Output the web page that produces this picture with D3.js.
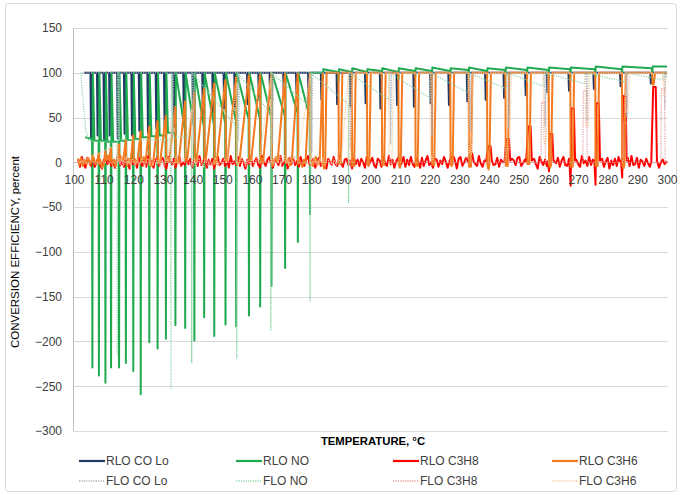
<!DOCTYPE html>
<html>
<head>
<meta charset="utf-8">
<script src="https://cdn.jsdelivr.net/npm/d3@7"></script>
<style>
  body { margin: 0; background: #fff; }
  text { font-family: "Liberation Sans", Arial, sans-serif; }
</style>
</head>
<body>
<div id="chart"></div>
<script>
// ---- data ----
// temperatures of the RLO lean/rich switches
const cycleT = [106.2,108.4,110.6,112.5,115.2,117.5,120.0,122.5,125.4,128.2,131.0,134.2,137.5,140.6,
  143.9,147.3,151.1,154.7,159.0,162.8,166.6,171.2,175.5,179.6,183.9,189.2,193.7,198.8,203.8,209.4,
  215.1,220.7,226.9,233.1,239.3,245.5,252.8,260.1,267.4,275.8,284.8,295.0];

// RLO NO: level just before each switch, spike at switch, level just after
const noTrough = [26,24,24,23,23,24,25,26,28,29,30,33,36,38,40,42,44,46,48,48,50,52,55,50,
  100,101,101,101,102,101,102,102,102,103,102,103,103,103,104,104,104,105];
const noDip = [-229,-238,-246,-229,-229,-224,-233,-259,-201,-208,-197,-182,-185,-199,-173,-194,-181,
  -183,-171,-161,-138,-118,-89,-58,92,90,93,91,94,92,95,93,94,95,94,96,95,93,92,94,95,96];
const noPeak = [100,100,100,100,100,100,100,100,100,100,100,100,100,100,100,100,100,100,100,100,100,100,100,100,
  104,104,105,104,105,105,105,106,105,106,105,106,106,106,106,107,107,107];
const noStart = [[103.8, 28]];
const noEnd = 107;

// RLO CO Lo: lowest value at each switch
const coDip = [28,30,26,30,27,32,30,35,33,38,36,40,42,45,50,55,60,62,65,70,72,75,78,60,
  70,65,62,66,60,64,62,66,64,68,70,72,75,78,80,82,85,88];

// RLO C3H6: value reached before each switch, floor after it, climb time, recovery time
const c3h6Top = [8,10,12,16,20,25,30,35,40,46,52,62,68,78,82,88,92,95,97,98,99,99,99,99,
  99,100,100,100,100,100,100,100,100,100,100,100,100,100,100,100,100,100];
const c3h6Low = [1,-2,2,0,3,-1,2,0,-2,3,1,-1,2,0,3,-2,1,0,2,-1,0,1,-2,0,
  -3,-2,-4,-1,-3,-2,-4,-3,-2,-5,-3,-4,-2,-3,-5,-4,-3,87];
const c3h6Rise = [0.5,0.5,0.6,0.7,0.8,0.9,1.0,1.2,1.5,1.8,2.0,2.2,2.4,2.6,2.8,3.0,3.0,3.2,3.0,2.8,2.5,2.0,1.5,1.0,
  0.5,0.5,0.5,0.5,0.5,0.5,0.5,0.5,0.5,0.5,0.5,0.5,0.5,0.5,0.5,0.5,0.5,0.5];
const c3h6Back = [null,null,null,null,null,null,null,null,null,null,null,null,null,null,null,null,null,null,null,null,null,null,null,null,
  1.3,1.3,1.3,1.3,1.3,1.3,1.3,1.3,1.3,1.3,1.3,1.3,1.3,1.3,1.3,1.3,1.3,1.0];
const c3h6Start = [[101.3,4],[101.8,-3],[102.4,5],[103.0,-4],[103.6,3],[104.2,-2],[104.8,5],[105.4,-3],[106.0,3]];
const c3h6End = 100;
const c3h6Noise = [4,-3,5,-4,2,6,-2,3,-5,4,0,-3,5,1,-4,3,6,-2,-4,3];

// RLO C3H8: baseline readings every 0.62 degC from 101.4, peaks / negative spikes at switches
const c3h8Noise = [
  4,-5,6,-2,-6,5,1,-4,7,-5,0,6,-3,-7,3,5,-2,6,-4,2,
  -6,3,7,-3,1,-5,6,-1,-7,4,-2,3,-6,5,-1,-4,4,-5,7,-2,
  2,-6,3,6,-4,1,5,-3,-7,6,1,-2,4,-6,3,7,-4,0,-3,5,
  -2,4,-6,2,3,-4,7,-3,1,5,-6,3,-2,4,-7,2,6,-3,0,4,
  -4,3,-6,7,-2,1,-3,6,-4,4,-1,-7,3,-2,6,-4,1,5,-3,-6,
  7,0,-4,3,6,-2,-6,4,1,-3,7,-4,0,3,-7,5,-2,4,-3,2,
  -5,6,-1,-4,3,7,-3,-1,4,-6,2,5,-4,0,3,-7,4,1,-3,6,
  -2,-4,7,-1,-5,3,4,-3,2,-7,5,-2,3,-4,4,0,-6,6,-3,1,
  5,-3,-6,4,2,-5,6,-1,-4,7,-2,3,-6,1,5,-4,-1,6,-5,3,
  -3,6,-2,-5,4,1,-6,5,-4,2,7,-3,0,-6,4,3,-5,2,-2,6,
  1,-6,5,-3,3,-1,-7,4,6,-4,0,5,-5,2,-3,6,-2,-4,7,-1,
  -5,2,4,-6,1,6,-3,-2,5,-5,3,0,-4,7,-2,-6,4,2,-3,5,
  6,-4,-1,3,-6,5,2,-5,4,-2,-7,6,1,-3,3,-4,5,-1,-6,4,
  -1,5,-5,2,6,-3,-4,4,0,-6,5,3,-2,-5,7,-1,2,-4,6,-3,
  3,-2,-6,6,-1,4,-5,1,5,-7,2,-3,4,-4,6,0,-5,3,-2,5,
  -4,7,-3,-2,5,-6,3,1,-4,4,-1,-5,6,-3,2,5,-6,0,3,-2];
const c3h8Peak = [0,0,0,0,0,0,0,0,0,0,0,0,0,0,0,0,0,0,0,0,0,0,0,0,
  0,0,0,0,0,0,0,0,6,10,18,26,40,32,60,66,74,84];
const c3h8Neg = [0,0,0,0,0,0,0,0,0,0,0,0,0,0,0,0,0,0,0,0,0,0,0,0,
  0,0,0,0,0,0,0,0,0,0,0,0,0,-10,-26,-25,-17,0];

// FLO switches
const floT = [114.6,132.7,139.7,154.9,166.4,179.6,192.6,206.2,220.1,233.0,246.0,258.3,272.4,285.9,298.7];
const floNoTrough = [22,25,28,40,55,62,65,70,72,78,82,85,88,90,92];
const floNoDip = [-216,-253,-224,-219,-188,-155,-45,90,92,92,94,95,95,96,97];
const floNoPeak = [100,100,100,100,100,100,100,100,100,100,100,100,100,100,100];
const floNoStart = [[102.3,100],[103.0,70],[104.0,35],[105.0,24]];
const floNoEnd = 94;
const floCoDip = [25,28,22,25,20,11,15,20,29,35,38,40,45,50,60];
const floC3h6Top = [20,45,60,88,95,98,99,99,99,99,99,99,99,99,99];
const floC3h6Low = [0,1,-1,0,2,0,-1,0,3,8,15,25,40,55,75];
const floC3h6Rise = [1.0,2.5,3.5,4.0,4.0,2.5,1.0,0.5,0.5,0.5,0.5,0.5,0.5,0.5,0.5];
const floC3h6Back = [null,null,null,null,null,null,1.5,1.5,1.5,1.5,1.5,1.5,1.5,1.5,1.0];
const floC3h8Peak = [0,0,0,0,0,0,0,0,0,5,15,67,80,45,82];

const yTicks = [150,100,50,0,-50,-100,-150,-200,-250,-300];
const xTicks = [100,110,120,130,140,150,160,170,180,190,200,210,220,230,240,250,260,270,280,290,300];

const seriesInfo = [
  {name: 'RLO CO Lo', color: '#1f3864', dash: null},
  {name: 'RLO NO',    color: '#1faa50', dash: null},
  {name: 'RLO C3H8',  color: '#ff0000', dash: null},
  {name: 'RLO C3H6',  color: '#f37a1f', dash: null},
  {name: 'FLO CO Lo', color: '#a9b0b8', dash: '1.2,1.2'},
  {name: 'FLO NO',    color: '#8fd4a8', dash: '1.2,1.2'},
  {name: 'FLO C3H8',  color: '#e39a9a', dash: '1.2,1.2'},
  {name: 'FLO C3H6',  color: '#f6c9a0', dash: '1.2,1.2'}
];

// ---- build the traces from the readings ----
// CO drops just ahead of the NO spike, so its dip sits left of the green line
function buildCO(ts, dips, startT, lead) {
  const pts = [[startT, 100]];
  ts.forEach((t, i) => pts.push([t - lead - 0.2, 100], [t - lead, dips[i]], [t - lead + 0.3, 100]));
  pts.push([300, 100]);
  return pts;
}

function buildNO(ts, troughs, dips, peaks, start, endVal) {
  const pts = start.slice();
  ts.forEach((t, i) => {
    pts.push([t - 0.1, troughs[i]], [t, dips[i]], [t + 0.15, peaks[i]]);
    const nextTrough = i + 1 < ts.length ? troughs[i + 1] : endVal;
    if (nextTrough < 35) pts.push([t + 0.7, nextTrough]);
  });
  pts.push([300, endVal]);
  return pts;
}

function buildSaw(ts, tops, lows, rises, backs, start, endVal, noise) {
  const pts = start.slice();
  let k = 0;
  ts.forEach((t, i) => {
    const next = i + 1 < ts.length ? ts[i + 1] : 300;
    const nextTop = i + 1 < ts.length ? tops[i + 1] : endVal;
    const back = backs[i] === null ? next - 0.05 : t + backs[i];
    const riseFrom = back - rises[i];
    pts.push([t, tops[i]], [t + 0.12, lows[i]]);
    for (let u = t + 0.5; u < riseFrom - 0.25; u += 0.5) {
      pts.push([u, lows[i] + noise[k % noise.length]]);
      k++;
    }
    pts.push([riseFrom, lows[i]], [back, nextTop]);
  });
  pts.push([300, endVal]);
  return pts;
}

function buildC3H8(ts, peaks, negs, baseline) {
  const wins = ts.map((t, i) => ({t, peak: peaks[i], neg: negs[i]})).filter(d => d.peak !== 0 || d.neg !== 0);
  let pts = baseline.map((v, i) => [101.4 + i * 0.62, v])
    .filter(p => !wins.some(w => p[0] > w.t - 0.3 && p[0] < w.t + 1.9));
  wins.forEach(w => {
    pts.push([w.t - 0.3, 1]);
    if (w.neg) pts.push([w.t + 0.1, w.neg]);
    pts.push([w.t + 0.35, w.peak], [w.t + 1.2, w.peak], [w.t + 1.6, 2]);
  });
  pts.push([300, 1]);
  return pts.sort((a, b) => a[0] - b[0]);
}

function buildFloC3H8(ts, peaks) {
  const pts = [[101.5, 0]];
  ts.forEach((t, i) => {
    if (!peaks[i]) return;
    pts.push([t - 0.8, 0], [t - 0.6, peaks[i]], [t + 0.5, peaks[i]], [t + 0.7, 0]);
  });
  pts.push([300, 0]);
  return pts;
}

const traces = [
  buildCO(cycleT, coDip, 103.4, 0.45),
  buildNO(cycleT, noTrough, noDip, noPeak, noStart, noEnd),
  buildC3H8(cycleT, c3h8Peak, c3h8Neg, c3h8Noise),
  buildSaw(cycleT, c3h6Top, c3h6Low, c3h6Rise, c3h6Back, c3h6Start, c3h6End, c3h6Noise),
  buildCO(floT, floCoDip, 102.5, -0.6),
  buildNO(floT, floNoTrough, floNoDip, floNoPeak, floNoStart, floNoEnd),
  buildFloC3H8(floT, floC3h8Peak),
  buildSaw(floT, floC3h6Top, floC3h6Low, floC3h6Rise, floC3h6Back, [[102, 0]], 99, c3h6Noise)
];

// ---- chart ----
const width = 681, height = 495;
const x = d3.scaleLinear().domain([100, 300]).range([74, 667]);
const y = d3.scaleLinear().domain([-300, 150]).range([431, 28]);

const svg = d3.select('#chart').append('svg')
    .attr('width', width)
    .attr('height', height);

svg.append('rect')
    .attr('x', 5.5).attr('y', 3.5)
    .attr('width', 671).attr('height', 488)
    .attr('rx', 3)
    .attr('fill', '#fff')
    .attr('stroke', '#d9d9d9');

// gridlines
svg.append('g').selectAll('line')
    .data(yTicks)
    .enter().append('line')
    .attr('x1', 73).attr('x2', 668)
    .attr('y1', d => Math.round(y(d)) + 0.5)
    .attr('y2', d => Math.round(y(d)) + 0.5)
    .attr('stroke', d => d === 0 ? '#bfbfbf' : '#d9d9d9');

svg.append('line')
    .attr('x1', 73.5).attr('x2', 73.5)
    .attr('y1', y(150)).attr('y2', y(-300))
    .attr('stroke', '#bfbfbf');

// y axis labels
const yAxis = svg.append('g')
    .attr('transform', 'translate(73,0)')
    .call(d3.axisLeft(y).tickValues(yTicks).tickSize(0).tickPadding(11));
yAxis.select('.domain').remove();
yAxis.selectAll('text')
    .style('font-family', '"Liberation Sans", Arial, sans-serif')
    .style('font-size', '12px')
    .attr('fill', '#404040');

// series
svg.append('clipPath').attr('id', 'plotClip')
  .append('rect').attr('x', 73).attr('y', 20).attr('width', 596).attr('height', 412);

const line = d3.line().x(d => x(d[0])).y(d => y(d[1]));
const plot = svg.append('g').attr('clip-path', 'url(#plotClip)');
traces.forEach((pts, i) => {
  const s = seriesInfo[i];
  plot.append('path')
      .datum(pts)
      .attr('d', line)
      .attr('fill', 'none')
      .attr('stroke', s.color)
      .attr('stroke-width', s.dash ? 1.2 : 2)
      .attr('stroke-dasharray', s.dash)
      .attr('stroke-linejoin', 'round');
});

// x axis labels sit under the zero line
const xAxis = svg.append('g')
    .attr('transform', `translate(0,${y(0)})`)
    .call(d3.axisBottom(x).tickValues(xTicks).tickSize(0).tickPadding(13));
xAxis.select('.domain').remove();
xAxis.selectAll('text')
    .style('font-family', '"Liberation Sans", Arial, sans-serif')
    .style('font-size', '12px')
    .attr('fill', '#404040');

// axis titles
svg.append('text')
    .attr('x', 373).attr('y', 445)
    .attr('text-anchor', 'middle')
    .style('font-size', '11.3px')
    .style('font-weight', 'bold')
    .attr('fill', '#000')
    .text('TEMPERATURE, °C');

svg.append('text')
    .attr('transform', 'translate(19,252) rotate(-90)')
    .attr('text-anchor', 'middle')
    .style('font-size', '11.5px')
    .attr('fill', '#000')
    .text('CONVERSION EFFICIENCY, percent');

// legend
const legendX = [79, 236, 393, 552];
const legend = svg.append('g').selectAll('g')
    .data(seriesInfo)
    .enter().append('g')
    .attr('transform', (d, i) => `translate(${legendX[i % 4]},${i < 4 ? 461 : 481})`);
legend.append('line')
    .attr('x1', 0).attr('x2', 26)
    .attr('stroke', d => d.color)
    .attr('stroke-width', d => d.dash ? 1.5 : 2.2)
    .attr('stroke-dasharray', d => d.dash);
legend.append('text')
    .attr('x', 27).attr('y', 4.3)
    .style('font-size', '12px')
    .attr('fill', '#404040')
    .text(d => d.name);
</script>
</body>
</html>
